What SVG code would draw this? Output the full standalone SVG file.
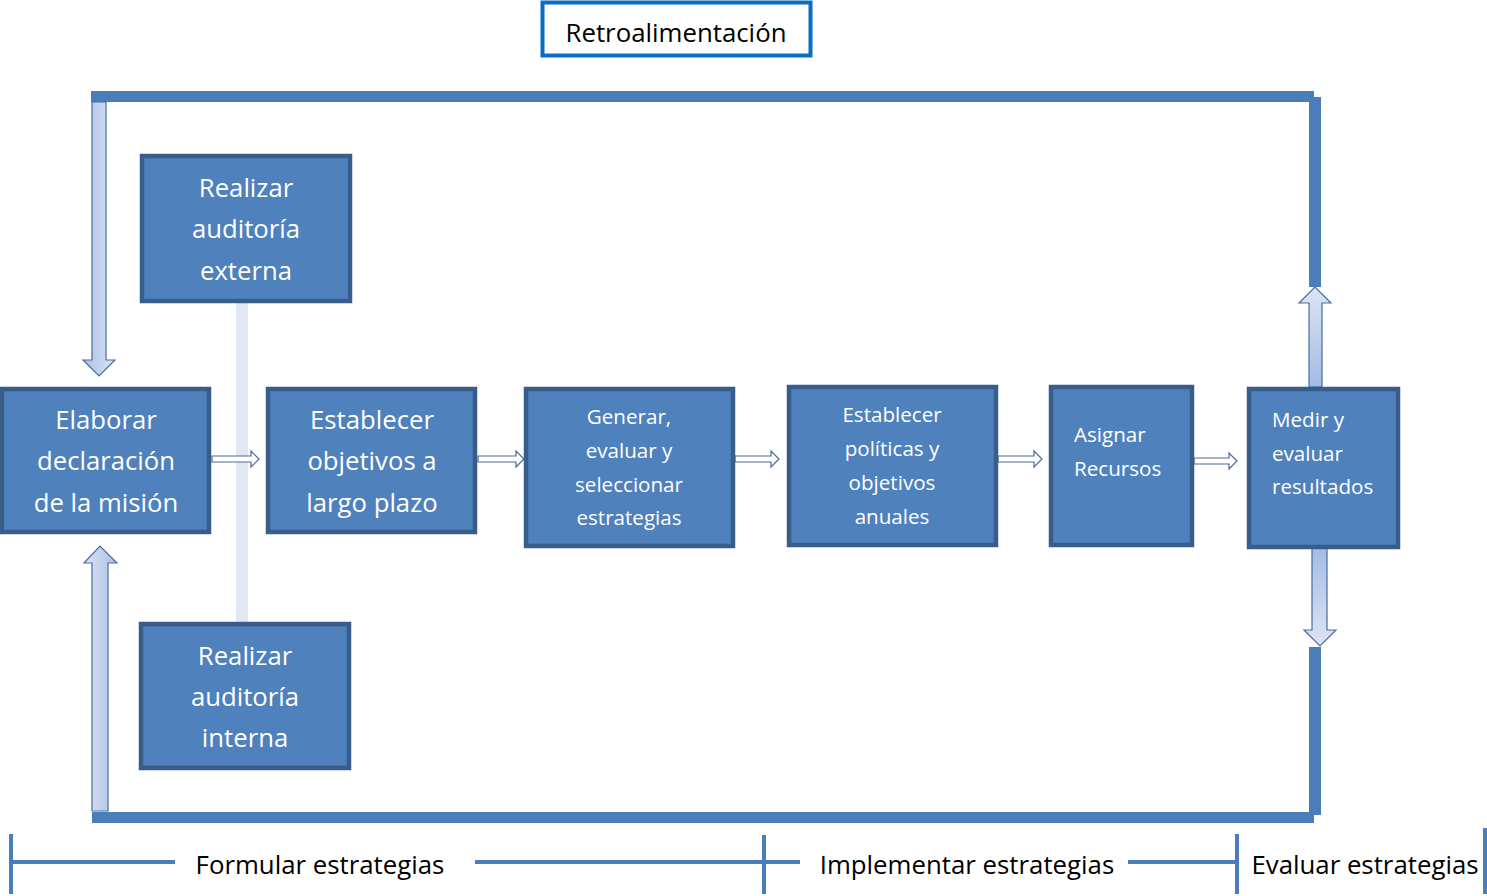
<svg xmlns="http://www.w3.org/2000/svg" width="1487" height="896" viewBox="0 0 1487 896">
<style>
.box{fill:#4f81bd;stroke:#385d8a;stroke-width:4.5}
.bt{font-family:"Open Sans","Liberation Sans",sans-serif;fill:#ffffff;text-anchor:middle}
.bl{font-family:"Open Sans","Liberation Sans",sans-serif;fill:#ffffff;text-anchor:start}
.big{font-size:25.7px}
.sm{font-size:20.6px}
.lbl{font-family:"Open Sans","Liberation Sans",sans-serif;font-size:25.8px;fill:#000000;text-anchor:middle}
.bar{fill:#4a7ebb}
.tick{stroke:#4a7ebb;stroke-width:4;fill:none}
.harrow{fill:#ffffff;stroke:#4a6c9c;stroke-width:1.2}
.barrow{stroke:#4a6c9c;stroke-width:1.2}
</style>
<defs>
<linearGradient id="gv1" x1="0" y1="0" x2="1" y2="0">
<stop offset="0" stop-color="#a9bee6"/><stop offset="1" stop-color="#dbe4f3"/>
</linearGradient>
<linearGradient id="gv2" x1="0" y1="0" x2="1" y2="0">
<stop offset="0" stop-color="#dbe4f3"/><stop offset="1" stop-color="#a9bee6"/>
</linearGradient>
<linearGradient id="gup" x1="0" y1="0" x2="0" y2="1">
<stop offset="0" stop-color="#dde5f3"/><stop offset="1" stop-color="#a3bbe5"/>
</linearGradient>
<linearGradient id="gdn" x1="0" y1="0" x2="0" y2="1">
<stop offset="0" stop-color="#a3bbe5"/><stop offset="1" stop-color="#dde5f3"/>
</linearGradient>
</defs>

<g id="connectors">
<rect x="236" y="301" width="12" height="322" fill="#e1e8f3"/>
<rect class="bar" x="91" y="91" width="1223" height="11"/>
<rect class="bar" x="1309" y="97" width="12" height="190"/>
<rect class="bar" x="92" y="812" width="1222" height="11"/>
<rect class="bar" x="1309" y="647" width="12" height="168"/>
<path class="barrow" fill="url(#gv1)" d="M92,102 H106 V360 H115 L99,376 L83,360 H92 Z"/>
<path class="barrow" fill="url(#gv2)" d="M92,811 V563 H84 L100,546 L117,563 H108 V811 Z"/>
<path class="barrow" fill="url(#gup)" d="M1309,387 V303 H1299 L1315,287 L1331,303 H1322 V387 Z"/>
<path class="barrow" fill="url(#gdn)" d="M1312,546 H1327 V630 H1336 L1320,646 L1304,630 H1312 Z"/>
<path class="harrow" d="M212,456 H251 V451 L259,459 L251,467 V462 H212 Z"/>
<path class="harrow" d="M478,456 H516 V451 L524,459 L516,467 V462 H478 Z"/>
<path class="harrow" d="M735,456 H771 V451 L779,459 L771,467 V462 H735 Z"/>
<path class="harrow" d="M998,456 H1034 V451 L1042,459 L1034,467 V462 H998 Z"/>
<path class="harrow" d="M1194,458 H1229 V453 L1237,461 L1229,469 V464 H1194 Z"/>
</g>

<g id="retro">
<rect x="542.5" y="2.5" width="268" height="53" fill="#ffffff" stroke="#0a6fc2" stroke-width="4"/>
<text class="lbl" x="676" y="42">Retroalimentación</text>
</g>

<g id="n-externa">
<rect class="box" x="142" y="156" width="208" height="145"/>
<text class="bt big" x="246" y="197">Realizar</text>
<text class="bt big" x="246" y="238">auditoría</text>
<text class="bt big" x="246" y="280">externa</text>
</g>

<g id="n-interna">
<rect class="box" x="141" y="624" width="208" height="144"/>
<text class="bt big" x="245" y="665">Realizar</text>
<text class="bt big" x="245" y="706">auditoría</text>
<text class="bt big" x="245" y="747">interna</text>
</g>

<g id="n-mision">
<rect class="box" x="2" y="389" width="207" height="143"/>
<text class="bt big" x="106" y="429">Elaborar</text>
<text class="bt big" x="106" y="470">declaración</text>
<text class="bt big" x="106" y="512">de la misión</text>
</g>

<g id="n-objetivos">
<rect class="box" x="268" y="389" width="207" height="143"/>
<text class="bt big" x="372" y="429">Establecer</text>
<text class="bt big" x="372" y="470">objetivos a</text>
<text class="bt big" x="372" y="512">largo plazo</text>
</g>

<g id="n-generar">
<rect class="box" x="526" y="389" width="207" height="157"/>
<text class="bt sm" x="629" y="424">Generar,</text>
<text class="bt sm" x="629" y="458">evaluar y</text>
<text class="bt sm" x="629" y="492">seleccionar</text>
<text class="bt sm" x="629" y="525">estrategias</text>
</g>

<g id="n-politicas">
<rect class="box" x="789" y="387" width="207" height="158"/>
<text class="bt sm" x="892" y="422">Establecer</text>
<text class="bt sm" x="892" y="456">políticas y</text>
<text class="bt sm" x="892" y="490">objetivos</text>
<text class="bt sm" x="892" y="524">anuales</text>
</g>

<g id="n-recursos">
<rect class="box" x="1051" y="387" width="141" height="158"/>
<text class="bl sm" x="1074" y="442">Asignar</text>
<text class="bl sm" x="1074" y="476">Recursos</text>
</g>

<g id="n-medir">
<rect class="box" x="1249" y="389" width="149" height="158"/>
<text class="bl sm" x="1272" y="427">Medir y</text>
<text class="bl sm" x="1272" y="461">evaluar</text>
<text class="bl sm" x="1272" y="494">resultados</text>
</g>

<g id="phases">
<line class="tick" x1="11" y1="834" x2="11" y2="894"/>
<line class="tick" x1="11" y1="862" x2="175" y2="862"/>
<text class="lbl" x="320" y="874">Formular estrategias</text>
<line class="tick" x1="475" y1="862" x2="764" y2="862"/>
<line class="tick" x1="764" y1="835" x2="764" y2="894"/>
<line class="tick" x1="764" y1="862" x2="800" y2="862"/>
<text class="lbl" x="967" y="874">Implementar estrategias</text>
<line class="tick" x1="1128" y1="862" x2="1237" y2="862"/>
<line class="tick" x1="1237" y1="834" x2="1237" y2="894"/>
<text class="lbl" x="1365" y="874">Evaluar estrategias</text>
<line class="tick" x1="1485" y1="828" x2="1485" y2="894"/>
</g>
</svg>
